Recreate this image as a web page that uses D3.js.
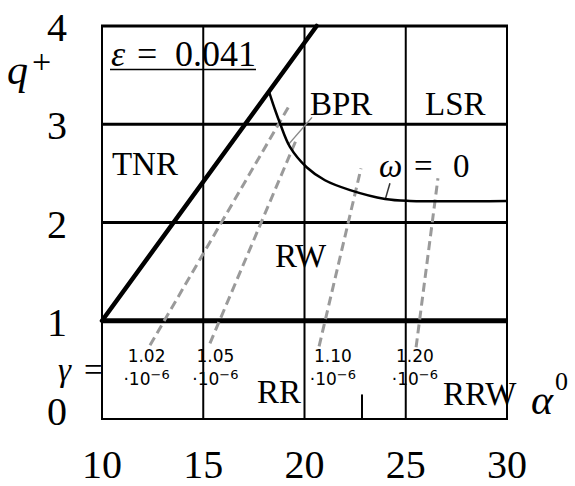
<!DOCTYPE html>
<html>
<head>
<meta charset="utf-8">
<script src="https://cdn.jsdelivr.net/npm/d3@7/dist/d3.min.js"></script>
<style>
  body { margin: 0; background: #fff; }
  text { font-family: "Liberation Serif", "DejaVu Serif", serif; fill: #000; }
</style>
</head>
<body>
<script>
// axis ticks
const xTicks = [10, 15, 20, 25, 30];
const yTicks = [0, 1, 2, 3, 4];

// thick boundary of TNR region
const tnrBoundary = [[10, 1], [20.6, 4]];
// omega = 0 curve
const omegaZero = [[18.25, 3.33], [18.54, 3.15], [18.79, 3.01], [19.28, 2.77], [20.12, 2.56],
  [21.01, 2.43], [22.25, 2.33], [23.98, 2.24], [25.21, 2.22], [30, 2.22]];

// gamma lines (dashed)
const gammaLabels = ['1.02', '1.05', '1.10', '1.20'];
const gammaLines = [
  [[12.37, 0.75], [19.28, 3.2]],
  [[15.33, 0.77], [19.63, 2.86]],
  [[20.72, 0.74], [22.79, 2.55]],
  [[25.51, 0.73], [26.59, 2.45]],
];
const gammaLabelAlpha = [12.2, 15.6, 21.4, 25.45];

// region names [label, alpha, q]
const regions = [['TNR', 10.49, 2.48], ['BPR', 20.27, 3.094], ['LSR', 25.95, 3.094],
  ['RW', 18.54, 1.547], ['RR', 17.65, 0.163], ['RRW', 26.84, 0.143]];

// leader lines
const leaders = [
  [[20.37, 3.07], [19.19, 2.79]],
  [[24.22, 2.40], [23.98, 2.23]],
];

const W = 575, H = 486;
const x = d3.scaleLinear().domain([10, 30]).range([102, 507]);
const y = d3.scaleLinear().domain([0, 4]).range([419, 26]);

const svg = d3.select('body').append('svg')
  .attr('width', W).attr('height', H)
  .attr('viewBox', [0, 0, W, H].join(' '));

const line = d3.line().x(d => x(d[0])).y(d => y(d[1]));

// grid
const grid = svg.append('g').attr('stroke', '#000').attr('fill', 'none');
grid.selectAll('line.v')
  .data(xTicks)
  .enter()
  .append('line')
  .attr('x1', d => x(d)).attr('x2', d => x(d))
  .attr('y1', y(0)).attr('y2', y(4))
  .attr('stroke-width', 2);
grid.selectAll('line.h')
  .data(yTicks)
  .enter()
  .append('line')
  .attr('x1', x(10) - 1).attr('x2', x(30) + 1)
  .attr('y1', d => y(d)).attr('y2', d => y(d))
  .attr('stroke-width', d => d === 1 ? 5 : d === 0 ? 2 : 3);

// small tick near 22.8
grid.append('line')
  .attr('x1', x(22.84)).attr('x2', x(22.84))
  .attr('y1', y(0.25)).attr('y2', y(0))
  .attr('stroke-width', 2);

// gamma dashed lines
svg.append('g')
  .selectAll('path')
  .data(gammaLines)
  .enter()
  .append('path')
  .attr('d', line)
  .attr('fill', 'none')
  .attr('stroke', '#9a9a9a')
  .attr('stroke-width', 3)
  .attr('stroke-dasharray', '9,5');

// leaders
svg.append('g')
  .selectAll('path')
  .data(leaders)
  .enter()
  .append('path')
  .attr('d', line)
  .attr('fill', 'none')
  .attr('stroke', (d, i) => i === 0 ? '#888' : '#333')
  .attr('stroke-width', 1.5);

// omega = 0 curve
svg.append('path')
  .attr('d', d3.line().curve(d3.curveCatmullRom).x(d => x(d[0])).y(d => y(d[1]))(omegaZero))
  .attr('fill', 'none')
  .attr('stroke', '#000')
  .attr('stroke-width', 2.5);

// TNR boundary
svg.append('path')
  .attr('d', line(tnrBoundary))
  .attr('fill', 'none')
  .attr('stroke', '#000')
  .attr('stroke-width', 4.5)
  .attr('stroke-linecap', 'round');

// tick labels
svg.append('g')
  .selectAll('text')
  .data(xTicks)
  .enter()
  .append('text')
  .attr('x', d => x(d))
  .attr('y', 478)
  .attr('text-anchor', 'middle')
  .attr('font-size', 40)
  .text(d => d);

svg.append('g')
  .selectAll('text')
  .data(yTicks)
  .enter()
  .append('text')
  .attr('x', 57)
  .attr('y', d => Math.min(Math.max(y(d) + 15, 34), 425))
  .attr('text-anchor', 'middle')
  .attr('font-size', 40)
  .text(d => d);

// axis titles
const qt = svg.append('text').attr('x', 7).attr('y', 84).attr('font-size', 42);
qt.append('tspan').attr('font-style', 'italic').text('q');
qt.append('tspan').attr('font-size', 34).attr('x', 32).attr('y', 73).text('+');

const at = svg.append('text').attr('x', 531).attr('y', 414).attr('font-size', 42);
at.append('tspan').attr('font-style', 'italic').text('α');
at.append('tspan').attr('font-size', 26).attr('x', 555).attr('y', 390).text('0');

// epsilon
const et = svg.append('text').attr('y', 66).attr('font-size', 36);
et.append('tspan').attr('x', 111).attr('font-style', 'italic').text('ε');
et.append('tspan').attr('x', 137).text('=');
et.append('tspan').attr('x', 175).text('0.041');
svg.append('line')
  .attr('x1', 110).attr('x2', 256)
  .attr('y1', 69.5).attr('y2', 69.5)
  .attr('stroke', '#000').attr('stroke-width', 1.5);

// omega label
const ot = svg.append('text').attr('y', 177).attr('font-size', 33);
ot.append('tspan').attr('x', 379).attr('font-style', 'italic').text('ω');
ot.append('tspan').attr('x', 414).text('=');
ot.append('tspan').attr('x', 453).text('0');

// region labels
svg.append('g')
  .selectAll('text')
  .data(regions)
  .enter()
  .append('text')
  .attr('x', d => x(d[1]))
  .attr('y', d => y(d[2]))
  .attr('font-size', 33)
  .text(d => d[0]);

// gamma =
const gt = svg.append('text').attr('y', 381).attr('font-size', 33);
gt.append('tspan').attr('x', 58).attr('font-style', 'italic').text('γ');
gt.append('tspan').attr('x', 84).text('=');

// gamma values
const gl = svg.append('g')
  .selectAll('g')
  .data(gammaLabels)
  .enter()
  .append('g')
  .attr('transform', (d, i) => `translate(${x(gammaLabelAlpha[i])},0)`);
gl.append('text')
  .attr('y', 362)
  .attr('text-anchor', 'middle')
  .attr('font-size', 17)
  .style('font-family', '"DejaVu Sans", sans-serif')
  .text(d => d);
const g2 = gl.append('text')
  .attr('y', 385)
  .attr('text-anchor', 'middle')
  .attr('font-size', 17)
  .style('font-family', '"DejaVu Sans", sans-serif');
g2.append('tspan').text('·10');
g2.append('tspan').attr('font-size', 13).attr('dy', -6).text('−6');
</script>
</body>
</html>
